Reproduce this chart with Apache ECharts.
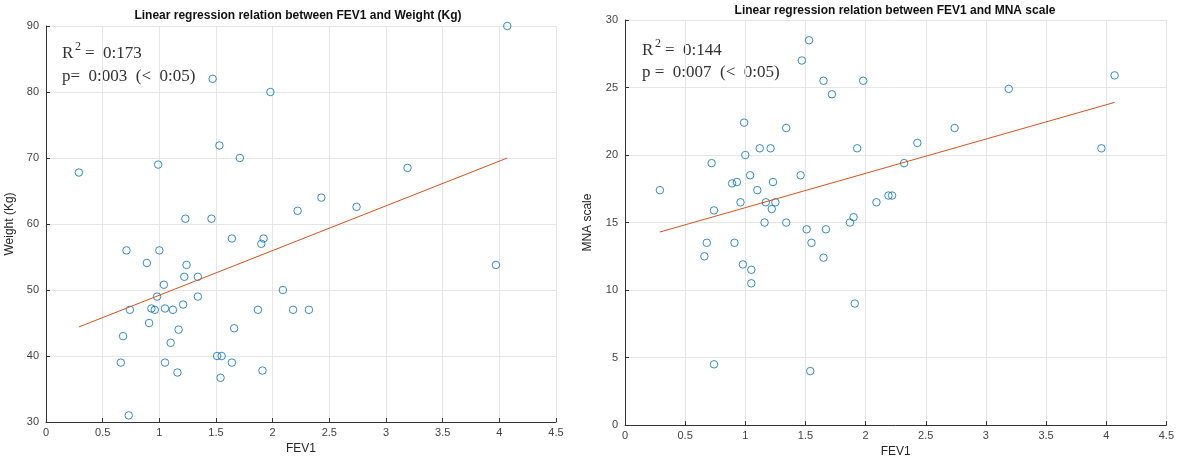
<!DOCTYPE html>
<html>
<head>
<meta charset="utf-8">
<script src="https://cdn.jsdelivr.net/npm/echarts@6/dist/echarts.min.js"></script>
<style>
  html, body { margin: 0; padding: 0; background: #fff; }
  #main { width: 1177px; height: 463px; }
</style>
</head>
<body>
<div id="main"></div>
<script>
// FEV1 vs Weight (Kg)
var fevW = [0.29, 0.66, 0.68, 0.71, 0.73, 0.74, 0.89, 0.91, 0.93, 0.96, 0.98, 0.99, 1.00, 1.04, 1.05, 1.05, 1.10, 1.12, 1.16, 1.17,
            1.21, 1.22, 1.23, 1.24, 1.34, 1.34, 1.46, 1.47, 1.51, 1.53, 1.54, 1.55, 1.64, 1.64, 1.66, 1.71, 1.87, 1.90, 1.91, 1.92,
            1.98, 2.09, 2.18, 2.22, 2.32, 2.43, 2.74, 3.19, 3.97, 4.07];
var weight = [67.8, 39, 43, 56, 31, 47, 54.1, 45, 47.2, 47, 49, 69, 56, 50.8, 47.2, 39, 42, 47, 37.5, 44,
              47.8, 52, 60.8, 53.8, 52, 49, 60.8, 82, 40, 71.9, 36.7, 40, 57.8, 39, 44.2, 70, 47, 57, 37.8, 57.8,
              80, 50, 47, 62, 47, 64, 62.6, 68.5, 53.8, 90];
var fitWx = [0.29, 4.07];
var fitWy = [44.4, 70.0];

// FEV1 vs MNA scale
var fevM = [0.29, 0.66, 0.68, 0.72, 0.74, 0.74, 0.89, 0.91, 0.93, 0.96, 0.98, 0.99, 1.00, 1.04, 1.05, 1.05, 1.10, 1.12, 1.16, 1.17,
            1.21, 1.22, 1.23, 1.25, 1.34, 1.34, 1.46, 1.47, 1.51, 1.53, 1.54, 1.55, 1.65, 1.65, 1.67, 1.72, 1.87, 1.90, 1.91, 1.93,
            1.98, 2.09, 2.19, 2.22, 2.32, 2.43, 2.74, 3.19, 3.96, 4.07];
var mna = [17.4, 12.5, 13.5, 19.4, 15.9, 4.5, 17.9, 13.5, 18, 16.5, 11.9, 22.4, 20, 18.5, 11.5, 10.5, 17.4, 20.5, 15, 16.5,
           20.5, 16, 18, 16.5, 22, 15, 18.5, 27, 14.5, 28.5, 4, 13.5, 25.5, 12.4, 14.5, 24.5, 15, 15.4, 9, 20.5,
           25.5, 16.5, 17, 17, 19.4, 20.9, 22, 24.9, 20.5, 25.9];
var fitMx = [0.29, 4.07];
var fitMy = [14.3, 23.9];

var xTicks = { min: 0, max: 4.5, interval: 0.5 };
var yTicksW = { min: 30, max: 90, interval: 10 };
var yTicksM = { min: 0, max: 30, interval: 5 };

(function(){
    var chart = echarts.init(document.getElementById('main'));

    function pairs(xs, ys) {
        var out = [];
        for (var i = 0; i < xs.length; i++) out.push([xs[i], ys[i]]);
        return out;
    }

    var labelFont = 'Liberation Sans, Arial, sans-serif';
    var serif = 'Liberation Serif, DejaVu Serif, serif';

    function valueAxis(idx, ticks, name, nameGap, isY) {
        return {
            type: 'value',
            gridIndex: idx,
            min: ticks.min,
            max: ticks.max,
            interval: ticks.interval,
            name: name,
            nameLocation: 'middle',
            nameGap: nameGap,
            nameTextStyle: { color: '#262626', fontSize: 12, fontFamily: labelFont },
            axisLine: { show: true, onZero: false, lineStyle: { color: '#333', width: 1 } },
            axisTick: { show: true, inside: true, length: 4, lineStyle: { color: '#333' } },
            axisLabel: { color: '#444', fontSize: 11, fontFamily: labelFont, margin: isY ? 7 : 5 },
            splitLine: { show: true, lineStyle: { color: '#e6e6e6', width: 1 } }
        };
    }

    // hollow circle markers, thin outline like the original
    var dot = {
        symbol: 'circle', symbolSize: 7.5,
        itemStyle: { color: 'rgba(255,255,255,0)', borderColor: '#0072BD', borderWidth: 1 }
    };

    var txt = '#333';
    var option = {
        backgroundColor: '#fff',
        animation: false,
        grid: [
            { left: 46, right: 621, top: 26, bottom: 41 },
            { left: 625, right: 8, top: 20, bottom: 32 }
        ],
        xAxis: [
            valueAxis(0, xTicks, 'FEV1', 17, false),
            valueAxis(1, xTicks, 'FEV1', 20, false)
        ],
        yAxis: [
            valueAxis(0, yTicksW, 'Weight (Kg)', 30, true),
            valueAxis(1, yTicksM, 'MNA scale', 31, true)
        ],
        graphic: [
            { type: 'text', x: 298, y: 16, style: { text: 'Linear regression relation between FEV1 and Weight (Kg)',
                font: 'bold 12px ' + labelFont, fill: '#111', align: 'center', verticalAlign: 'middle' } },
            { type: 'text', x: 895, y: 11, style: { text: 'Linear regression relation between FEV1 and MNA scale',
                font: 'bold 12px ' + labelFont, fill: '#111', align: 'center', verticalAlign: 'middle' } },
            // fit statistics, left panel
            { type: 'text', x: 62, y: 54, style: { text: 'R', font: '17px ' + serif, fill: txt, verticalAlign: 'middle' } },
            { type: 'text', x: 75, y: 47, style: { text: '2', font: '12px ' + serif, fill: txt, verticalAlign: 'middle' } },
            { type: 'text', x: 85, y: 54, style: { text: '=  0:173', font: '17px ' + serif, fill: txt, verticalAlign: 'middle' } },
            { type: 'text', x: 62, y: 77, style: { text: 'p=  0:003  (<  0:05)', font: '17px ' + serif, fill: txt, verticalAlign: 'middle' } },
            // fit statistics, right panel
            { type: 'text', x: 642, y: 51, style: { text: 'R', font: '17px ' + serif, fill: txt, verticalAlign: 'middle' } },
            { type: 'text', x: 655, y: 44, style: { text: '2', font: '12px ' + serif, fill: txt, verticalAlign: 'middle' } },
            { type: 'text', x: 665, y: 51, style: { text: '=  0:144', font: '17px ' + serif, fill: txt, verticalAlign: 'middle' } },
            { type: 'text', x: 642, y: 73, style: { text: 'p =  0:007  (<  0:05)', font: '17px ' + serif, fill: txt, verticalAlign: 'middle' } }
        ],
        series: [
            {
                type: 'scatter', xAxisIndex: 0, yAxisIndex: 0,
                symbol: dot.symbol, symbolSize: dot.symbolSize, itemStyle: dot.itemStyle,
                data: pairs(fevW, weight)
            },
            {
                type: 'line', xAxisIndex: 0, yAxisIndex: 0,
                showSymbol: false, symbol: 'none',
                lineStyle: { color: '#D95319', width: 1 },
                data: pairs(fitWx, fitWy)
            },
            {
                type: 'scatter', xAxisIndex: 1, yAxisIndex: 1,
                symbol: dot.symbol, symbolSize: dot.symbolSize, itemStyle: dot.itemStyle,
                data: pairs(fevM, mna)
            },
            {
                type: 'line', xAxisIndex: 1, yAxisIndex: 1,
                showSymbol: false, symbol: 'none',
                lineStyle: { color: '#D95319', width: 1 },
                data: pairs(fitMx, fitMy)
            }
        ]
    };

    chart.setOption(option);
})();
</script>
</body>
</html>
